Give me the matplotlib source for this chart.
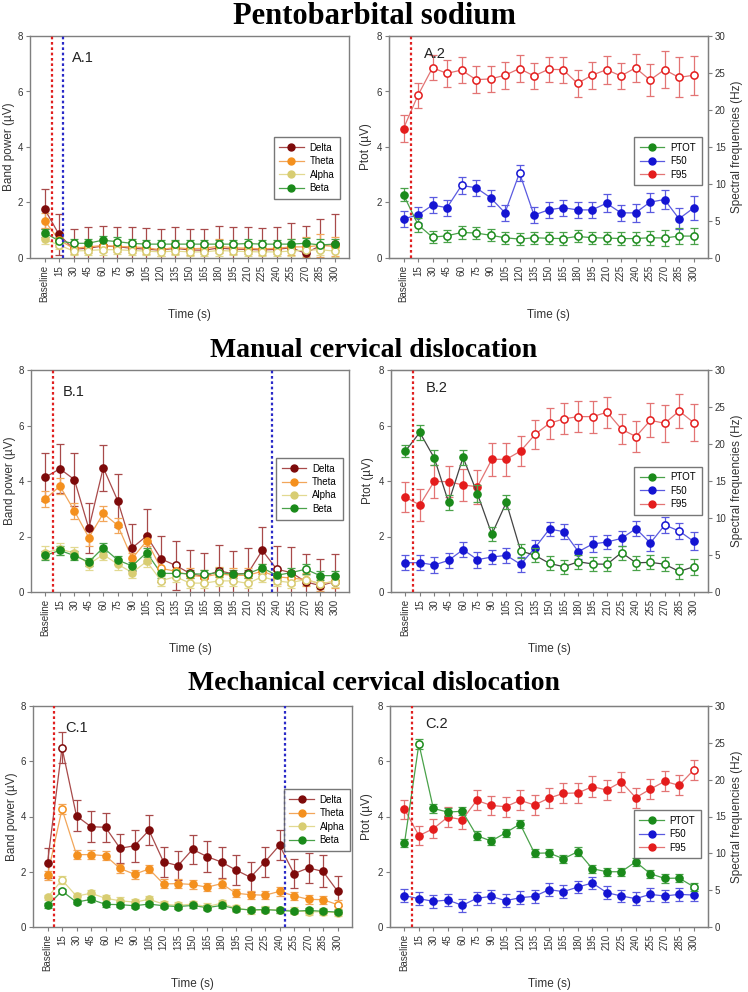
import numpy as np
import matplotlib
matplotlib.use("Agg")
import matplotlib.pyplot as plt
from matplotlib.lines import Line2D

plt.rcParams['font.family'] = ['Liberation Sans', 'DejaVu Sans']

# ---------------- data ----------------
time_labels = ['Baseline', '15', '30', '45', '60', '75', '90', '105', '120', '135', '150',
               '165', '180', '195', '210', '225', '240', '255', '270', '285', '300']

# ---- A.1 Pentobarbital: band power (uV) ----
a1_delta = [1.77, 0.85, 0.32, 0.35, 0.43, 0.41, 0.35, 0.32, 0.28, 0.35, 0.29, 0.28, 0.36, 0.32, 0.31, 0.29, 0.31, 0.37, 0.17, 0.44, 0.50]
a1_delta_err = [0.72, 0.73, 0.71, 0.75, 0.72, 0.70, 0.75, 0.75, 0.75, 0.78, 0.75, 0.75, 0.80, 0.78, 0.80, 0.80, 0.80, 0.90, 1.00, 0.98, 1.08]
a1_delta_fill = [1, 1, 0, 0, 0, 0, 0, 0, 0, 0, 0, 0, 0, 0, 0, 0, 0, 0, 1, 0, 1]
a1_theta = [1.35, 0.65, 0.35, 0.40, 0.45, 0.42, 0.40, 0.37, 0.30, 0.38, 0.33, 0.35, 0.42, 0.37, 0.35, 0.33, 0.35, 0.40, 0.40, 0.45, 0.42]
a1_theta_err = [0.28, 0.25, 0.20, 0.22, 0.25, 0.22, 0.22, 0.22, 0.22, 0.25, 0.22, 0.22, 0.25, 0.22, 0.22, 0.22, 0.22, 0.30, 0.35, 0.40, 0.35]
a1_theta_fill = [1] + [0] * 20
a1_alpha = [0.67, 0.47, 0.25, 0.27, 0.30, 0.30, 0.27, 0.25, 0.22, 0.25, 0.22, 0.22, 0.27, 0.25, 0.23, 0.22, 0.22, 0.25, 0.28, 0.30, 0.25]
a1_alpha_err = [0.15, 0.15, 0.15, 0.15, 0.18, 0.15, 0.15, 0.15, 0.15, 0.15, 0.15, 0.15, 0.18, 0.15, 0.15, 0.15, 0.15, 0.18, 0.20, 0.20, 0.22]
a1_alpha_fill = [1] + [0] * 20
a1_beta = [0.91, 0.62, 0.53, 0.53, 0.64, 0.59, 0.53, 0.50, 0.50, 0.50, 0.50, 0.50, 0.50, 0.50, 0.52, 0.50, 0.50, 0.50, 0.53, 0.47, 0.50]
a1_beta_err = [0.15, 0.15, 0.15, 0.15, 0.15, 0.15, 0.15, 0.15, 0.15, 0.15, 0.15, 0.15, 0.15, 0.15, 0.15, 0.15, 0.15, 0.18, 0.20, 0.20, 0.20]
a1_beta_fill = [1, 0, 0, 1, 1, 0, 0, 0, 0, 0, 0, 0, 0, 0, 0, 0, 0, 1, 1, 0, 1]

# ---- A.2 Pentobarbital: PTOT (uV), F50 / F95 (Hz) ----
a2_ptot = [2.28, 1.20, 0.75, 0.80, 0.92, 0.90, 0.82, 0.73, 0.68, 0.73, 0.71, 0.70, 0.78, 0.73, 0.72, 0.70, 0.70, 0.73, 0.72, 0.79, 0.79]
a2_ptot_err = [0.24, 0.25, 0.22, 0.22, 0.23, 0.22, 0.22, 0.22, 0.22, 0.22, 0.22, 0.22, 0.22, 0.22, 0.22, 0.22, 0.24, 0.26, 0.30, 0.30, 0.30]
a2_ptot_fill = [1] + [0] * 20
a2_f50 = [5.3, 5.8, 7.15, 6.8, 9.8, 9.5, 8.15, 6.1, 11.5, 5.8, 6.5, 6.8, 6.5, 6.5, 7.4, 6.1, 6.1, 7.55, 7.9, 5.3, 6.75]
a2_f50_err = [1.1, 1.1, 1.1, 1.1, 1.2, 1.1, 1.1, 1.1, 1.1, 1.1, 1.1, 1.1, 1.1, 1.1, 1.2, 1.1, 1.2, 1.3, 1.3, 1.4, 1.6]
a2_f50_fill = [1, 1, 1, 1, 0, 1, 1, 1, 0, 1, 1, 1, 1, 1, 1, 1, 1, 1, 1, 1, 1]
a2_f95 = [17.5, 22.0, 25.7, 24.95, 25.4, 24.1, 24.2, 24.7, 25.6, 24.6, 25.5, 25.45, 23.6, 24.7, 25.45, 24.6, 25.7, 24.05, 25.45, 24.4, 24.7]
a2_f95_err = [1.8, 1.7, 1.7, 1.8, 1.7, 1.8, 1.7, 1.8, 1.8, 1.8, 1.7, 1.75, 1.8, 1.8, 1.9, 1.8, 1.9, 2.2, 2.5, 2.7, 2.65]
a2_f95_fill = [1] + [0] * 20

# ---- B.1 Manual cervical dislocation: band power ----
b1_delta = [4.14, 4.44, 4.05, 2.29, 4.48, 3.29, 1.59, 2.02, 1.19, 0.96, 0.67, 0.55, 0.77, 0.65, 0.67, 1.50, 0.82, 0.70, 0.37, 0.23, 0.37]
b1_delta_err = [0.86, 0.89, 0.95, 0.90, 0.83, 0.95, 0.85, 0.96, 0.84, 0.87, 0.84, 0.84, 0.91, 0.83, 0.93, 0.85, 0.84, 0.93, 1.00, 0.96, 0.99]
b1_delta_fill = [1, 1, 1, 1, 1, 1, 1, 1, 1, 0, 0, 0, 0, 0, 0, 1, 0, 1, 1, 1, 1]
b1_theta = [3.35, 3.82, 2.92, 1.96, 2.83, 2.40, 1.21, 1.84, 0.85, 0.75, 0.60, 0.55, 0.65, 0.60, 0.60, 0.75, 0.55, 0.50, 0.45, 0.30, 0.38]
b1_theta_err = [0.28, 0.28, 0.28, 0.30, 0.28, 0.28, 0.20, 0.20, 0.25, 0.25, 0.25, 0.25, 0.25, 0.25, 0.25, 0.25, 0.25, 0.25, 0.25, 0.25, 0.25]
b1_theta_fill = [1] * 8 + [0] * 13
b1_alpha = [1.42, 1.55, 1.40, 1.00, 1.35, 1.00, 0.70, 1.10, 0.41, 0.55, 0.32, 0.32, 0.40, 0.40, 0.31, 0.55, 0.40, 0.34, 0.45, 0.30, 0.37]
b1_alpha_err = [0.22, 0.22, 0.22, 0.20, 0.20, 0.20, 0.20, 0.20, 0.18, 0.20, 0.18, 0.18, 0.18, 0.18, 0.18, 0.20, 0.18, 0.18, 0.18, 0.18, 0.18]
b1_alpha_fill = [1] * 8 + [0] * 13
b1_beta = [1.32, 1.50, 1.31, 1.08, 1.60, 1.15, 0.94, 1.42, 0.67, 0.67, 0.66, 0.64, 0.70, 0.64, 0.66, 0.87, 0.60, 0.70, 0.82, 0.59, 0.59]
b1_beta_err = [0.15, 0.15, 0.15, 0.15, 0.15, 0.15, 0.15, 0.15, 0.15, 0.15, 0.15, 0.15, 0.15, 0.15, 0.15, 0.15, 0.15, 0.15, 0.18, 0.15, 0.15]
b1_beta_fill = [1, 1, 1, 1, 1, 1, 1, 1, 1, 0, 0, 0, 0, 1, 0, 1, 1, 1, 0, 1, 1]

# ---- B.2 Manual cervical dislocation ----
b2_ptot = [5.08, 5.75, 4.83, 3.23, 4.85, 3.54, 2.08, 3.23, 1.48, 1.32, 1.03, 0.91, 1.09, 1.01, 1.00, 1.42, 1.05, 1.07, 1.00, 0.74, 0.91]
b2_ptot_err = [0.22, 0.28, 0.27, 0.27, 0.27, 0.30, 0.25, 0.25, 0.25, 0.25, 0.25, 0.25, 0.25, 0.25, 0.25, 0.25, 0.25, 0.25, 0.25, 0.28, 0.28]
b2_ptot_fill = [1] * 8 + [0] * 13
b2_f50 = [3.96, 3.96, 3.65, 4.28, 5.72, 4.37, 4.73, 4.95, 3.74, 5.99, 8.51, 8.15, 5.45, 6.49, 6.76, 7.25, 8.56, 6.62, 9.05, 8.24, 6.85]
b2_f50_err = [1.0, 1.0, 1.1, 1.0, 1.0, 1.1, 1.0, 1.0, 1.0, 1.0, 1.0, 1.0, 1.0, 1.1, 1.0, 1.0, 1.0, 1.1, 1.1, 1.1, 1.2]
b2_f50_fill = [1] * 18 + [0, 0, 1]
b2_f95 = [12.8, 11.76, 14.95, 14.9, 14.46, 14.23, 17.93, 17.93, 19.05, 21.3, 22.8, 23.4, 23.7, 23.7, 24.3, 22.0, 21.0, 23.2, 22.8, 24.46, 22.9]
b2_f95_err = [2.0, 2.2, 2.2, 2.1, 2.2, 2.3, 2.2, 2.2, 2.0, 2.0, 2.1, 2.1, 2.1, 2.15, 2.1, 2.0, 2.1, 2.3, 2.5, 2.3, 2.5]
b2_f95_fill = [1] * 9 + [0] * 12

# ---- C.1 Mechanical cervical dislocation: band power ----
c1_delta = [2.32, 6.49, 4.02, 3.63, 3.61, 2.85, 2.94, 3.50, 2.36, 2.22, 2.81, 2.55, 2.35, 2.06, 1.80, 2.36, 2.96, 1.93, 2.14, 2.01, 1.30]
c1_delta_err = [0.53, 0.56, 0.56, 0.57, 0.53, 0.53, 0.57, 0.54, 0.55, 0.52, 0.52, 0.55, 0.56, 0.53, 0.54, 0.54, 0.55, 0.53, 0.53, 0.58, 0.53]
c1_delta_fill = [1, 0] + [1] * 19
c1_theta = [1.87, 4.27, 2.62, 2.62, 2.58, 2.12, 1.91, 2.10, 1.56, 1.57, 1.54, 1.44, 1.57, 1.22, 1.17, 1.15, 1.29, 1.13, 1.00, 0.99, 0.81]
c1_theta_err = [0.17, 0.17, 0.17, 0.17, 0.17, 0.16, 0.16, 0.16, 0.16, 0.16, 0.15, 0.15, 0.16, 0.15, 0.15, 0.15, 0.16, 0.15, 0.15, 0.15, 0.15]
c1_theta_fill = [1, 0] + [1] * 18 + [0]
c1_alpha = [1.07, 1.70, 1.12, 1.22, 1.04, 0.95, 0.90, 1.00, 0.83, 0.78, 0.83, 0.74, 0.86, 0.68, 0.60, 0.63, 0.62, 0.59, 0.55, 0.55, 0.52]
c1_alpha_err = [0.10, 0.15, 0.12, 0.12, 0.12, 0.12, 0.12, 0.12, 0.12, 0.12, 0.12, 0.12, 0.12, 0.12, 0.12, 0.12, 0.12, 0.12, 0.12, 0.12, 0.12]
c1_alpha_fill = [1, 0] + [1] * 19
c1_beta = [0.78, 1.30, 0.90, 1.00, 0.82, 0.81, 0.77, 0.83, 0.77, 0.74, 0.78, 0.70, 0.78, 0.66, 0.62, 0.63, 0.60, 0.57, 0.60, 0.57, 0.54]
c1_beta_err = [0.08, 0.08, 0.08, 0.08, 0.08, 0.08, 0.08, 0.08, 0.08, 0.08, 0.08, 0.08, 0.08, 0.08, 0.08, 0.08, 0.08, 0.08, 0.08, 0.08, 0.08]
c1_beta_fill = [1, 0] + [1] * 19

# ---- C.2 Mechanical cervical dislocation ----
c2_ptot = [3.03, 6.63, 4.29, 4.16, 4.19, 3.31, 3.11, 3.41, 3.73, 2.67, 2.68, 2.47, 2.73, 2.11, 2.00, 2.00, 2.36, 1.93, 1.76, 1.77, 1.46]
c2_ptot_err = [0.15, 0.17, 0.15, 0.15, 0.15, 0.15, 0.15, 0.15, 0.15, 0.15, 0.15, 0.15, 0.15, 0.15, 0.15, 0.15, 0.15, 0.15, 0.15, 0.15, 0.15]
c2_ptot_fill = [1, 0] + [1] * 18 + [0]
c2_f50 = [4.25, 3.85, 3.48, 3.66, 2.94, 3.89, 4.16, 3.57, 3.98, 4.16, 5.07, 4.80, 5.43, 5.97, 4.66, 4.21, 3.85, 4.43, 4.21, 4.43, 4.34]
c2_f50_err = [0.85] * 21
c2_f50_fill = [1] * 21
c2_f95 = [16.0, 12.4, 13.35, 14.93, 14.57, 17.19, 16.5, 16.33, 17.19, 16.56, 17.5, 18.14, 18.2, 19.05, 18.6, 19.7, 17.56, 18.7, 19.77, 19.23, 21.3]
c2_f95_err = [1.3, 1.3, 1.3, 1.3, 1.3, 1.35, 1.35, 1.35, 1.35, 1.3, 1.35, 1.35, 1.35, 1.4, 1.35, 1.35, 1.35, 1.35, 1.35, 1.35, 1.35]
c2_f95_fill = [1] * 20 + [0]

# event markers (category-index positions)
a_red_evt, a_blue_evt = 0.55, 1.3
b_red_evt, b_blue_evt = 0.5, 15.7
c_red_evt, c_blue_evt = 0.42, 16.4
right_red_evt = 0.5

titles = ['Pentobarbital sodium', 'Manual cervical dislocation', 'Mechanical cervical dislocation']
panel_ids = [('A.1', 'A.2'), ('B.1', 'B.2'), ('C.1', 'C.2')]

# ---------------- styles ----------------
COL = {
    'Delta': ('#7d0a0a', '#a84a4a'),
    'Theta': ('#f4901e', '#f2a65a'),
    'Alpha': ('#d8cd72', '#e2d991'),
    'Beta': ('#1a8a1a', '#4aa24a'),
    'PTOT': ('#1a8a1a', '#4aa24a'),
    'F50': ('#1414d2', '#5a5ae0'),
    'F95': ('#e41c1c', '#e37474'),
}
GRAY = '#7f7f7f'
TXT = '#333333'

fig = plt.figure(figsize=(7.48, 9.92), dpi=100)
W, H = 748.0, 992.0


def rect(x0, x1, y0, y1):
    return [x0 / W, 1 - y1 / H, (x1 - x0) / W, (y1 - y0) / H]


rects = [
    (rect(30, 349, 36, 258), rect(389, 708, 36, 258)),
    (rect(31, 349, 370, 592), rect(391, 708, 370, 592)),
    (rect(33, 352, 706, 927), rect(390, 708, 706, 927)),
]

x = np.arange(len(time_labels))


def draw(ax, y, err, fill, name, line_override=None):
    mc, lc = COL[name]
    lc_line = line_override if line_override else lc
    y = np.asarray(y)
    err = np.asarray(err)
    fill = np.asarray(fill).astype(bool)
    ax.plot(x, y, color=lc_line, lw=0.9, zorder=2)
    ax.errorbar(x, y, yerr=err, fmt='none', ecolor=lc, elinewidth=0.9,
                capsize=3.0, capthick=0.9, zorder=2)
    ax.plot(x[fill], y[fill], 'o', ms=5.2, mfc=mc, mec=mc, mew=1.0, ls='none', zorder=3)
    ax.plot(x[~fill], y[~fill], 'o', ms=5.2, mfc='white', mec=mc, mew=1.1, ls='none', zorder=3)


def style_axis(ax):
    for s in ax.spines.values():
        s.set_color(GRAY)
        s.set_linewidth(1.0)
    ax.tick_params(axis='both', which='both', direction='out', length=3,
                   color=GRAY, labelsize=7, labelcolor=TXT, width=0.8, pad=2)
    ax.set_xlim(-1, 21)
    ax.set_xticks(x)
    ax.set_xticklabels(time_labels, rotation=90, fontsize=7)
    ax.set_ylim(0, 8)
    ax.set_yticks([0, 2, 4, 6, 8])
    ax.set_xlabel('Time (s)', fontsize=8.5, color=TXT, labelpad=5)


def make_legend(ax, names, anchor):
    handles = [Line2D([0], [0], color=COL[n][1], lw=0.9, marker='o', ms=5,
                      mfc=COL[n][0], mec=COL[n][0]) for n in names]
    leg = ax.legend(handles, names, loc='upper right', bbox_to_anchor=anchor,
                    fontsize=7, frameon=True, fancybox=False, borderpad=0.6,
                    handlelength=2.5, labelspacing=0.35, handletextpad=0.6,
                    borderaxespad=0.0)
    leg.get_frame().set_edgecolor('#555555')
    leg.get_frame().set_linewidth(1.0)
    leg.set_zorder(10)


left_sets = [
    (a1_delta, a1_delta_err, a1_delta_fill, a1_theta, a1_theta_err, a1_theta_fill,
     a1_alpha, a1_alpha_err, a1_alpha_fill, a1_beta, a1_beta_err, a1_beta_fill),
    (b1_delta, b1_delta_err, b1_delta_fill, b1_theta, b1_theta_err, b1_theta_fill,
     b1_alpha, b1_alpha_err, b1_alpha_fill, b1_beta, b1_beta_err, b1_beta_fill),
    (c1_delta, c1_delta_err, c1_delta_fill, c1_theta, c1_theta_err, c1_theta_fill,
     c1_alpha, c1_alpha_err, c1_alpha_fill, c1_beta, c1_beta_err, c1_beta_fill),
]
right_sets = [
    (a2_ptot, a2_ptot_err, a2_ptot_fill, a2_f50, a2_f50_err, a2_f50_fill, a2_f95, a2_f95_err, a2_f95_fill),
    (b2_ptot, b2_ptot_err, b2_ptot_fill, b2_f50, b2_f50_err, b2_f50_fill, b2_f95, b2_f95_err, b2_f95_fill),
    (c2_ptot, c2_ptot_err, c2_ptot_fill, c2_f50, c2_f50_err, c2_f50_fill, c2_f95, c2_f95_err, c2_f95_fill),
]
events = [(a_red_evt, a_blue_evt), (b_red_evt, b_blue_evt), (c_red_evt, c_blue_evt)]
left_leg_anchor = [(0.972, 0.545), (0.98, 0.605), (0.994, 0.625)]
right_leg_anchor = [(0.98, 0.545), (0.98, 0.565), (0.978, 0.53)]
title_base = [24, 357, 690]
title_size = [22, 20, 20]

for i in range(3):
    rl, rr = rects[i]
    ax1 = fig.add_axes(rl)
    style_axis(ax1)
    ax1.set_ylabel('Band power (\u00b5V)', fontsize=8.5, color=TXT, labelpad=2)
    s = left_sets[i]
    draw(ax1, s[0], s[1], s[2], 'Delta')
    draw(ax1, s[3], s[4], s[5], 'Theta')
    draw(ax1, s[6], s[7], s[8], 'Alpha')
    draw(ax1, s[9], s[10], s[11], 'Beta')
    red_e, blue_e = events[i]
    ax1.axvline(red_e, color='#e02020', ls=(0, (1.2, 1.2)), lw=1.6, zorder=4)
    ax1.axvline(blue_e, color='#2a2ac8', ls=(0, (1.2, 1.2)), lw=1.6, zorder=4)
    make_legend(ax1, ['Delta', 'Theta', 'Alpha', 'Beta'], left_leg_anchor[i])
    ax1.text(0.13 if i == 0 else 0.10, 0.90, panel_ids[i][0], transform=ax1.transAxes,
             fontsize=10.5, color='#222222', va='center')

    # right panel: Ptot (uV) on the left axis, spectral frequencies (Hz) on the right axis
    r = right_sets[i]
    ax2 = fig.add_axes(rr)
    style_axis(ax2)
    ax2.set_ylabel('Ptot (\u00b5V)', fontsize=8.5, color=TXT, labelpad=3)
    ax3 = ax2.twinx()
    ax3.set_ylim(0, 30)
    ax3.set_xlim(-1, 21)
    ax3.set_yticks([0, 5, 10, 15, 20, 25, 30])
    draw(ax3, r[3], r[4], r[5], 'F50')
    draw(ax3, r[6], r[7], r[8], 'F95')
    # overlay axes for PTOT (same uV scale as the left axis) so it draws above
    ax4 = ax2.twinx()
    ax4.set_ylim(0, 8)
    ax4.set_xlim(-1, 21)
    ax4.axis('off')
    draw(ax4, r[0], r[1], r[2], 'PTOT', line_override='#444444' if i == 1 else None)
    ax4.axvline(right_red_evt, color='#e02020', ls=(0, (1.2, 1.2)), lw=1.6, zorder=4)
    ax3.yaxis.tick_right()
    ax3.yaxis.set_label_position('right')
    for sp in ax3.spines.values():
        sp.set_color(GRAY)
    ax3.tick_params(axis='y', direction='out', length=3, color=GRAY,
                    labelsize=7, labelcolor=TXT, width=0.8, pad=2,
                    left=False, labelleft=False, right=True, labelright=True)
    ax3.set_ylabel('Spectral frequencies (Hz)', fontsize=8.5, color=TXT, labelpad=4)
    make_legend(ax4, ['PTOT', 'F50', 'F95'], right_leg_anchor[i])
    ax4.text(0.11, 0.92, panel_ids[i][1], transform=ax4.transAxes,
             fontsize=10.5, color='#222222', va='center')

    fig.text(0.5, 1 - title_base[i] / H, titles[i], ha='center', va='baseline',
             fontsize=title_size[i], fontweight='bold', family='Liberation Serif')

fig.savefig('out.png', dpi=100)
